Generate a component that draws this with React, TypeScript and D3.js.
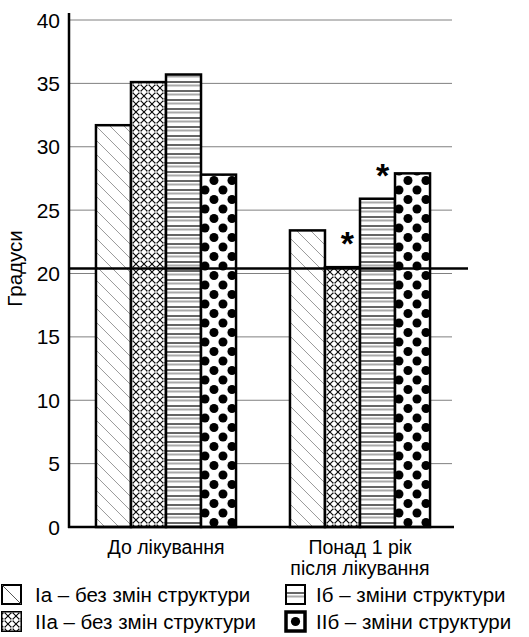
import React from "react";
import * as d3 from "d3";

const groups = ["До лікування", "Понад 1 рік\nпісля лікування"];
const series = ["Ia", "IIa", "Iб", "IIб"];
const legendLabels = [
  "Ia – без змін структури",
  "IIa – без змін структури",
  "Iб – зміни структури",
  "IIб – зміни структури",
];
// values[series][group]
const valuesIa = [31.7, 23.4];
const valuesIIa = [35.1, 20.5];
const valuesIb = [35.7, 25.9];
const valuesIIb = [27.8, 27.9];
const values = [valuesIa, valuesIIa, valuesIb, valuesIIb];
// significance marks: [series index, group index]
const starred = [
  [1, 1],
  [2, 1],
];
const refValue = 20.4;
const yTicks = [0, 5, 10, 15, 20, 25, 30, 35, 40];

const W = 529;
const H = 637;
const font = "'Liberation Sans', Arial, sans-serif";
const patternIds = ["pDiag", "pCross", "pStripe", "pDots"];

const App = () => {
  const x0 = d3.scaleBand().domain(groups).range([69, 457]).paddingInner(0.278).paddingOuter(0.139);
  const x1 = d3.scaleBand().domain(series).range([0, x0.bandwidth()]);
  const y = d3.scaleLinear().domain([0, 40]).range([527, 20]);

  return (
    <svg width={W} height={H} style={{ position: "absolute", left: 0, top: 0, background: "#fff" }}>
      <defs>
        <pattern id="pDiag" width="14" height="14" patternUnits="userSpaceOnUse">
          <rect width="14" height="14" fill="#fff" />
          <path d="M0,0 L14,14 M-7,7 L7,21 M7,-7 L21,7" stroke="#999" strokeWidth="1" />
        </pattern>
        <pattern id="pCross" width="8" height="8" patternUnits="userSpaceOnUse">
          <rect width="8" height="8" fill="#fff" />
          <path d="M0,0 L8,8 M8,0 L0,8" stroke="#000" strokeWidth="1.1" />
          <path d="M4,2.4 L5.6,4 L4,5.6 L2.4,4 Z" fill="#fff" stroke="#333" strokeWidth="0.5" />
        </pattern>
        <pattern id="pStripe" width="9" height="9" patternUnits="userSpaceOnUse">
          <rect width="9" height="9" fill="#fff" />
          <rect y="0" width="9" height="2" fill="#666" />
          <rect y="3.5" width="9" height="2" fill="#aaa" />
        </pattern>
        <pattern id="pDots" width="18" height="19" patternUnits="userSpaceOnUse" x="1" y="0">
          <rect width="18" height="19" fill="#fff" />
          <circle cx="0" cy="0" r="4.5" fill="#000" />
          <circle cx="18" cy="0" r="4.5" fill="#000" />
          <circle cx="0" cy="19" r="4.5" fill="#000" />
          <circle cx="18" cy="19" r="4.5" fill="#000" />
          <circle cx="9" cy="9.5" r="4.5" fill="#000" />
        </pattern>
      </defs>

      {/* gridlines */}
      {yTicks.slice(1).map((t) => (
        <line key={t} x1={69} x2={452} y1={y(t)} y2={y(t)} stroke="#808080" strokeWidth={1} />
      ))}

      {/* bars */}
      {groups.map((g, gi) => (
        <g key={g} transform={`translate(${x0(g)},0)`}>
          {series.map((s, si) => (
            <rect
              key={s}
              x={x1(s)}
              y={y(values[si][gi])}
              width={x1.bandwidth()}
              height={y(0) - y(values[si][gi])}
              fill={`url(#${patternIds[si]})`}
              stroke="#000"
              strokeWidth={2.5}
            />
          ))}
        </g>
      ))}

      {/* reference line */}
      <line x1={69} x2={468} y1={y(refValue)} y2={y(refValue)} stroke="#000" strokeWidth={2.5} />

      {/* stars */}
      {starred.map(([si, gi]) => (
        <text
          key={`${si}-${gi}`}
          x={(x0(groups[gi]) as number) + (x1(series[si]) as number) + x1.bandwidth() / 2 + 5}
          y={y(values[si][gi]) - 12}
          textAnchor="middle"
          fontFamily={font}
          fontSize={34}
          fontWeight="bold"
        >
          *
        </text>
      ))}

      {/* axes */}
      <line x1={69} x2={69} y1={13} y2={528} stroke="#000" strokeWidth={2.5} />
      <line x1={68} x2={454} y1={527} y2={527} stroke="#000" strokeWidth={2.5} />
      {yTicks.map((t) => (
        <text key={t} x={60} y={y(t)} dy="0.36em" textAnchor="end" fontFamily={font} fontSize={21}>
          {t}
        </text>
      ))}
      <text
        transform={`translate(22,${y(20) - 5}) rotate(-90)`}
        textAnchor="middle"
        fontFamily={font}
        fontSize={20.5}
      >
        Градуси
      </text>

      {/* group labels */}
      {groups.map((g) =>
        g.split("\n").map((line, li) => (
          <text
            key={g + li}
            x={(x0(g) as number) + x0.bandwidth() / 2}
            y={554 + li * 21}
            textAnchor="middle"
            fontFamily={font}
            fontSize={19.5}
          >
            {line}
          </text>
        ))
      )}

      {/* legend */}
      {series.map((s, si) => {
        const col = si < 2 ? 0 : 1;
        const row = si % 2;
        const lx = col === 0 ? 2 : 286;
        const ly = 585 + row * 27;
        const sz = 19;
        return (
          <g key={s}>
            <rect x={lx} y={ly} width={sz} height={sz} fill="#fff" stroke="#000" strokeWidth={2} />
            {si === 0 && <line x1={lx} y1={ly} x2={lx + sz} y2={ly + sz} stroke="#555" strokeWidth={1} />}
            {si === 1 && <rect x={lx} y={ly} width={sz} height={sz} fill="url(#pCross)" stroke="#000" strokeWidth={1} />}
            {si === 2 && (
              <g>
                <rect x={lx + 1} y={ly + 7} width={sz - 2} height={2} fill="#666" />
                <rect x={lx + 1} y={ly + 10.5} width={sz - 2} height={2} fill="#aaa" />
              </g>
            )}
            {si === 3 && (
              <g>
                <rect x={lx} y={ly} width={sz} height={sz} fill="#fff" stroke="#000" strokeWidth={3.5} />
                <circle cx={lx + sz / 2} cy={ly + sz / 2} r={4.6} fill="#000" />
              </g>
            )}
            <text x={col === 0 ? 35 : 316} y={ly + sz / 2} dy="0.36em" fontFamily={font} fontSize={20.5}>
              {legendLabels[si]}
            </text>
          </g>
        );
      })}
    </svg>
  );
};

export default App;
